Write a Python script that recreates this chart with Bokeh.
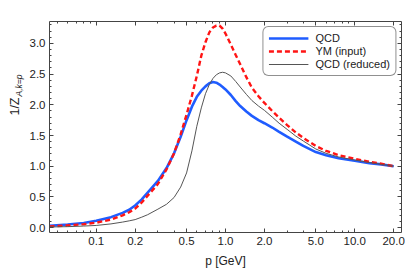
from bokeh.plotting import figure
from bokeh.layouts import row
from bokeh.models import (Range1d, FixedTicker, CustomJSTickFormatter, LogAxis, LinearAxis,
                          Legend, LegendItem, Label)
from bokeh.embed import file_html
from bokeh.resources import INLINE
import math

p_vals = [0.0435, 0.06, 0.08, 0.1, 0.13, 0.16, 0.18, 0.2, 0.225, 0.25, 0.3, 0.35, 0.4, 0.45, 0.5, 0.55,
          0.6, 0.65, 0.7, 0.75, 0.8, 0.85, 0.9, 0.95, 1.0, 1.1, 1.2, 1.3, 1.45, 1.6, 1.8,
          2.0, 2.3, 2.6, 3.0, 3.5, 4.0, 5.0, 6.0, 7.5, 10, 13, 16, 20]
qcd = [0.03, 0.05, 0.075, 0.11, 0.17, 0.24, 0.29, 0.36, 0.46, 0.57, 0.76, 0.97, 1.21, 1.48, 1.75, 1.97,
       2.13, 2.23, 2.30, 2.35, 2.37, 2.36, 2.33, 2.29, 2.25, 2.16, 2.06, 1.98, 1.89, 1.82, 1.75,
       1.70, 1.63, 1.56, 1.48, 1.40, 1.33, 1.23, 1.18, 1.13, 1.09, 1.05, 1.03, 1.0]
ym = [0.02, 0.035, 0.055, 0.08, 0.13, 0.20, 0.25, 0.31, 0.41, 0.52, 0.71, 0.95, 1.21, 1.52, 1.84, 2.15,
      2.47, 2.80, 3.02, 3.18, 3.26, 3.29, 3.29, 3.24, 3.16, 2.98, 2.81, 2.66, 2.45, 2.28, 2.14,
      2.03, 1.90, 1.79, 1.67, 1.55, 1.46, 1.33, 1.25, 1.18, 1.12, 1.07, 1.04, 1.0]
qcd_red = [0.01, 0.015, 0.025, 0.035, 0.06, 0.09, 0.11, 0.13, 0.17, 0.21, 0.30, 0.38, 0.49, 0.66, 0.89, 1.25,
           1.65, 1.95, 2.18, 2.33, 2.43, 2.49, 2.52, 2.53, 2.52, 2.47, 2.38, 2.29, 2.17, 2.07, 1.98,
           1.91, 1.80, 1.70, 1.60, 1.49, 1.41, 1.28, 1.21, 1.15, 1.10, 1.06, 1.03, 1.0]

x_ticks = [0.1, 0.2, 0.5, 1.0, 2.0, 5.0, 10.0, 20.0]
x_minor = [0.05, 0.06, 0.07, 0.08, 0.09, 0.3, 0.4, 0.6, 0.7, 0.8, 0.9, 3, 4, 6, 7, 8, 9]
y_ticks = [0.0, 0.5, 1.0, 1.5, 2.0, 2.5, 3.0]
y_minor = [round(0.1 * i, 1) for i in range(0, 34)]

FONT = "Liberation Sans"
FRAME = "#444444"
TEXT = "#222222"

LW = 26  # width of the narrow strip holding the y-axis title
H = 270

p = figure(width=405 - LW, height=H, x_axis_type="log", output_backend="svg",
           toolbar_location=None, x_range=Range1d(0.0435, 23.0), y_range=Range1d(-0.08, 3.357),
           min_border_left=49 - LW, min_border_right=4, min_border_top=21, min_border_bottom=32)
p.outline_line_color = None
p.grid.visible = False
p.background_fill_color = "white"

fmt = CustomJSTickFormatter(code="return tick.toFixed(1);")
blank = CustomJSTickFormatter(code="return '';")

def style(ax):
    ax.axis_line_color = FRAME
    ax.axis_line_width = 1
    ax.major_tick_in = 4
    ax.major_tick_out = 0
    ax.minor_tick_in = 2
    ax.minor_tick_out = 0
    ax.major_tick_line_color = FRAME
    ax.minor_tick_line_color = FRAME
    ax.major_label_text_font = FONT
    ax.major_label_text_font_size = "11.5px"
    ax.major_label_text_color = TEXT
    ax.major_label_standoff = 4
    ax.axis_label_text_font = FONT
    ax.axis_label_text_font_style = "normal"
    ax.axis_label_text_font_size = "12px"
    ax.axis_label_text_color = TEXT

xt = FixedTicker(ticks=x_ticks, minor_ticks=x_minor)
yt = FixedTicker(ticks=y_ticks, minor_ticks=y_minor)

p.xaxis.ticker = xt
p.xaxis.formatter = fmt
p.xaxis.axis_label = "p [GeV]"
p.xaxis.axis_label_standoff = 6
p.yaxis.ticker = yt
p.yaxis.formatter = fmt
p.yaxis.axis_label = None
for ax in p.xaxis + p.yaxis:
    style(ax)

top = LogAxis(ticker=xt, formatter=blank)
style(top)
top.major_label_standoff = 0
p.add_layout(top, "above")
right = LinearAxis(ticker=yt, formatter=blank)
style(right)
right.major_label_standoff = 0
p.add_layout(right, "right")

r_qcd = p.line(p_vals, qcd, line_color="#1f5cff", line_width=2.6)
r_ym = p.line(p_vals, ym, line_color="#ff1414", line_width=2.4, line_dash="5 3")
r_red = p.line(p_vals, qcd_red, line_color="#555555", line_width=1)

legend = Legend(items=[LegendItem(label="QCD", renderers=[r_qcd]),
                       LegendItem(label="YM (input)", renderers=[r_ym]),
                       LegendItem(label="QCD (reduced)", renderers=[r_red])],
                location="top_right")
legend.label_text_font = FONT
legend.label_text_font_size = "11px"
legend.label_text_color = TEXT
legend.glyph_width = 40
legend.glyph_height = 12
legend.label_height = 12
legend.spacing = 1
legend.padding = 5
legend.margin = 5
legend.label_standoff = 7
legend.border_line_color = TEXT
legend.border_line_width = 1
legend.background_fill_alpha = 1
try:
    legend.border_radius = 6
except Exception:
    pass
p.add_layout(legend, "center")

# narrow strip on the left carrying the y-axis title 1/Z_{A,k=p}
lab = figure(width=LW, height=H, output_backend="svg", toolbar_location=None,
             x_range=Range1d(0, 1), y_range=Range1d(0, 1),
             min_border_left=0, min_border_right=0, min_border_top=0, min_border_bottom=0)
lab.axis.visible = False
lab.grid.visible = False
lab.outline_line_color = None
base_y = 32 + 103
lab.add_layout(Label(x=14.5, y=base_y, x_units="screen", y_units="screen", text="1/Z",
                     angle=math.pi / 2, text_font=FONT, text_font_size="12.5px",
                     text_color=TEXT, text_align="right", text_baseline="middle"))
lab.add_layout(Label(x=18.5, y=base_y + 1, x_units="screen", y_units="screen", text="A,k=p",
                     angle=math.pi / 2, text_font=FONT, text_font_size="8.5px",
                     text_font_style="italic", text_color=TEXT,
                     text_align="left", text_baseline="middle"))

layout = row(lab, p, spacing=0)
open("out.html", "w").write(file_html(layout, INLINE))
